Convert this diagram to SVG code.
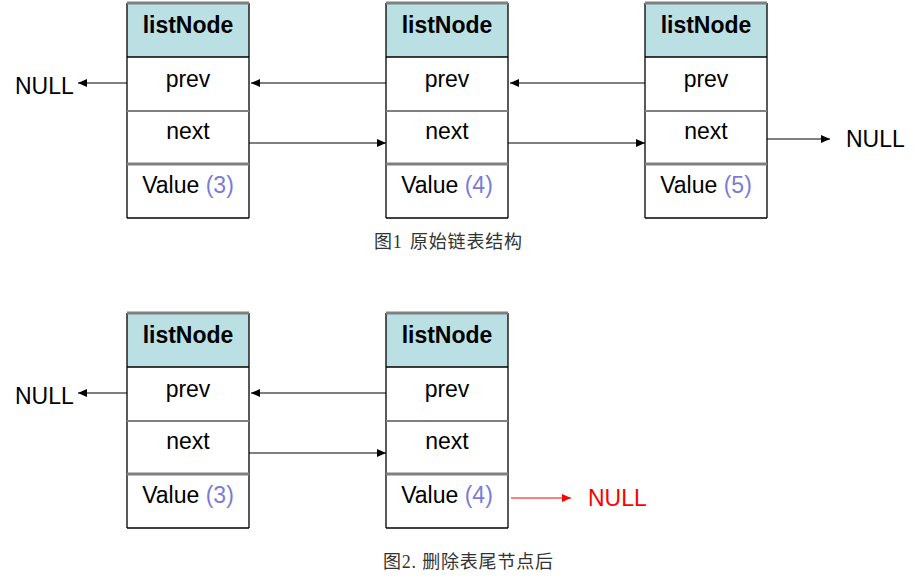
<svg xmlns="http://www.w3.org/2000/svg" width="922" height="584" viewBox="0 0 922 584">
<style>
.t{font-family:"Liberation Sans",Arial,sans-serif;font-size:23px;fill:#000;text-anchor:middle}
.b{font-weight:bold}
.n{fill:#7b7bd6}
.hd{fill:#bbe0e3}
.bx{fill:#fff}
.v{stroke:#000;stroke-width:1.3}
.g1{stroke:#808080;stroke-width:2}
.g2{stroke:#808080;stroke-width:3}
.k{stroke:#000;stroke-width:1.3}
.null{font-family:"Liberation Sans",Arial,sans-serif;font-size:23px;fill:#000}
.cap{font-family:"Liberation Serif","Noto Sans CJK SC",serif;font-size:18px;fill:#333;letter-spacing:0.8px}
.ar{stroke:#000;stroke-width:1;fill:none}
</style>
<defs>
<marker id="ah" markerUnits="userSpaceOnUse" markerWidth="10" markerHeight="8" refX="9" refY="4" orient="auto">
<path d="M0,0 L9,4 L0,8 Z" fill="#000"/>
</marker>
<marker id="ahr" markerUnits="userSpaceOnUse" markerWidth="10" markerHeight="8" refX="9" refY="4" orient="auto">
<path d="M0,0 L9,4 L0,8 Z" fill="#f00"/>
</marker>
<g id="nodeShape">
<rect x="0" y="0" width="122" height="54" class="hd"/>
<rect x="0" y="54" width="122" height="161" class="bx"/>
<line x1="0" y1="0" x2="0" y2="215" class="v"/>
<line x1="122" y1="0" x2="122" y2="215" class="v"/>
<line x1="0" y1="0" x2="122" y2="0" class="g2"/>
<line x1="0" y1="54" x2="122" y2="54" class="k"/>
<line x1="0" y1="108" x2="122" y2="108" class="g1"/>
<line x1="0" y1="161" x2="122" y2="161" class="g2"/>
<line x1="0" y1="215" x2="122" y2="215" class="k"/>
<text x="61" y="30" class="t b">listNode</text>
<text x="61" y="84" class="t">prev</text>
<text x="61" y="136" class="t">next</text>
</g>
</defs>

<g id="connectors">
<line x1="127" y1="83" x2="78" y2="83" class="ar" marker-end="url(#ah)"/>
<line x1="386" y1="83" x2="251" y2="83" class="ar" marker-end="url(#ah)"/>
<line x1="645" y1="83" x2="510" y2="83" class="ar" marker-end="url(#ah)"/>
<line x1="249" y1="143" x2="386" y2="143" class="ar" marker-end="url(#ah)"/>
<line x1="508" y1="143" x2="645" y2="143" class="ar" marker-end="url(#ah)"/>
<line x1="767" y1="139" x2="830" y2="139" class="ar" marker-end="url(#ah)"/>
<line x1="127" y1="393" x2="78" y2="393" class="ar" marker-end="url(#ah)"/>
<line x1="386" y1="393" x2="251" y2="393" class="ar" marker-end="url(#ah)"/>
<line x1="249" y1="453" x2="386" y2="453" class="ar" marker-end="url(#ah)"/>
<line x1="511" y1="498" x2="571" y2="498" stroke="#f00" stroke-width="1" marker-end="url(#ahr)"/>
</g>

<g id="n1a"><use href="#nodeShape" x="127" y="3"/><text x="188" y="193" class="t">Value <tspan class="n">(3)</tspan></text></g>
<g id="n1b"><use href="#nodeShape" x="386" y="3"/><text x="447" y="193" class="t">Value <tspan class="n">(4)</tspan></text></g>
<g id="n1c"><use href="#nodeShape" x="645" y="3"/><text x="706" y="193" class="t">Value <tspan class="n">(5)</tspan></text></g>

<g id="n2a"><use href="#nodeShape" x="127" y="313"/><text x="188" y="503" class="t">Value <tspan class="n">(3)</tspan></text></g>
<g id="n2b"><use href="#nodeShape" x="386" y="313"/><text x="447" y="503" class="t">Value <tspan class="n">(4)</tspan></text></g>

<g id="null1"><text x="15" y="94" class="null">NULL</text></g>
<g id="null2"><text x="846" y="147" class="null">NULL</text></g>
<g id="null3"><text x="15" y="404" class="null">NULL</text></g>
<g id="null4"><text x="588" y="506" class="null" style="fill:#f00">NULL</text></g>

<text x="374" y="248" class="cap">图1<tspan x="410">原始链表结构</tspan></text>
<text x="383" y="568" class="cap">图2. 删除表尾节点后</text>
</svg>
